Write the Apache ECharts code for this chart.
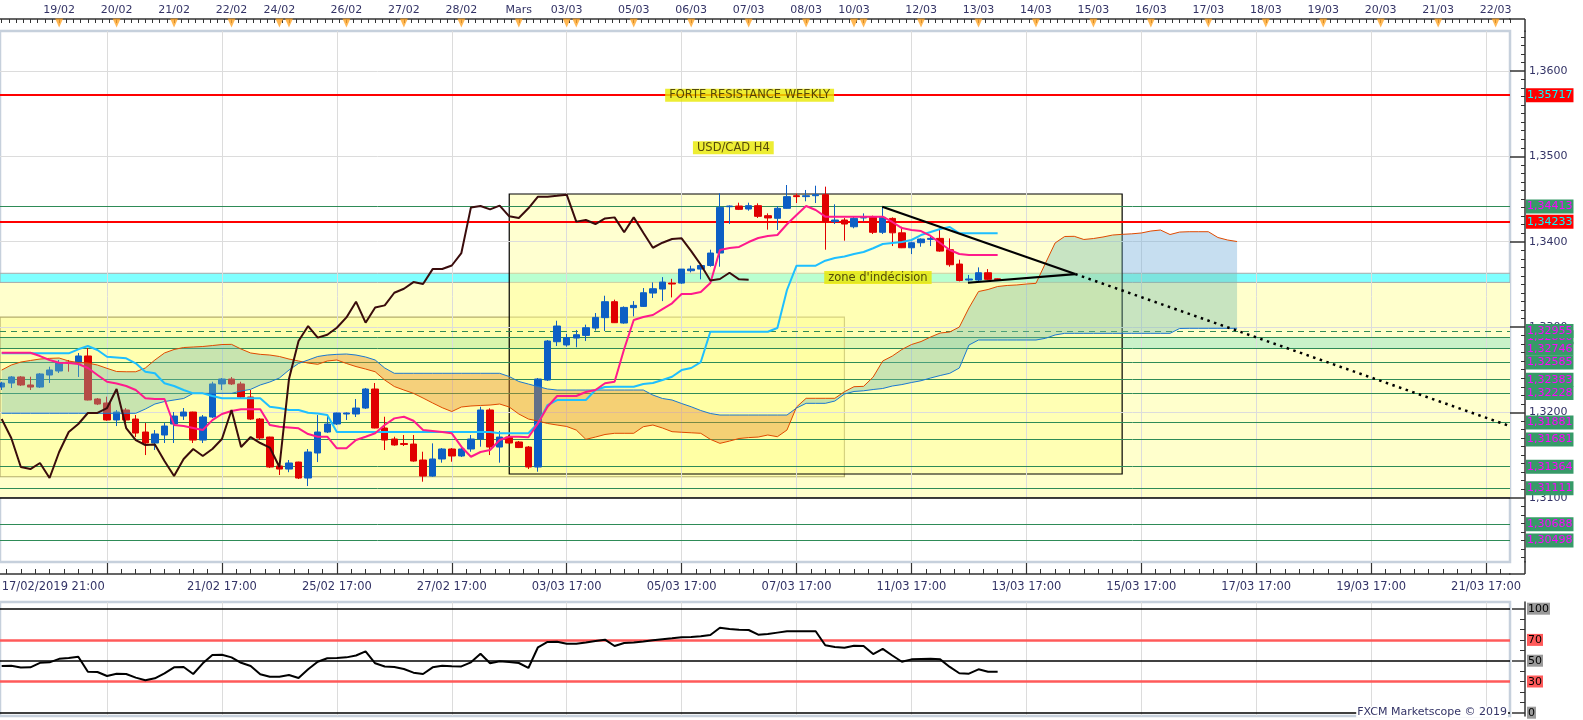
<!DOCTYPE html>
<html>
<head>
<meta charset="utf-8">
<title>USD/CAD H4</title>
<script src="https://cdn.jsdelivr.net/npm/echarts@6/dist/echarts.min.js"></script>
<style>
html, body { margin: 0; padding: 0; background: #ffffff; }
#chart { width: 1583px; height: 720px; }
</style>
</head>
<body>
<div id="chart"></div>
<script>
// ================= DATA =================
// H4 candles, index 0 = 17/02/2019 21:00 : [open, close, low, high]
const ohlc = [
[1.32297,1.32344,1.32262,1.32359],[1.32344,1.32415,1.32286,1.32426],[1.32415,1.32321,1.32309,1.32426],[1.32321,1.32297,1.32262,1.32418],
[1.32297,1.32450,1.32286,1.32461],[1.32438,1.32497,1.32344,1.32535],[1.32485,1.32579,1.32461,1.32614],[1.32590,1.32580,1.32477,1.32614],
[1.32579,1.32661,1.32415,1.32696],[1.32661,1.32145,1.32140,1.32754],[1.32157,1.32098,1.32086,1.32168],[1.32110,1.31911,1.31902,1.32184],
[1.31911,1.32004,1.31840,1.32028],[1.32028,1.31911,1.31875,1.32051],[1.31922,1.31758,1.31711,1.31969],[1.31770,1.31641,1.31500,1.31875],
[1.31641,1.31747,1.31559,1.31793],[1.31735,1.31840,1.31641,1.31875],[1.31864,1.31957,1.31641,1.32004],[1.31957,1.32004,1.31911,1.32051],
[1.32004,1.31676,1.31641,1.32008],[1.31676,1.31946,1.31641,1.31969],[1.31946,1.32333,1.31934,1.32359],[1.32333,1.32391,1.32262,1.32403],
[1.32391,1.32333,1.32321,1.32415],[1.32333,1.32180,1.32165,1.32359],[1.32180,1.31922,1.31911,1.32262],[1.31922,1.31700,1.31676,1.31934],
[1.31711,1.31360,1.31348,1.31715],[1.31372,1.31336,1.31266,1.31422],[1.31336,1.31407,1.31299,1.31442],[1.31418,1.31231,1.31219,1.31422],
[1.31231,1.31536,1.31137,1.31571],[1.31524,1.31770,1.31418,1.31969],[1.31770,1.31864,1.31758,1.31969],[1.31864,1.31993,1.31852,1.31997],
[1.31981,1.31993,1.31911,1.32001],[1.31981,1.32051,1.31946,1.32157],[1.32051,1.32274,1.32040,1.32286],[1.32274,1.31817,1.31813,1.32344],
[1.31817,1.31676,1.31559,1.31949],[1.31688,1.31618,1.31610,1.31715],[1.31635,1.31624,1.31606,1.31735],[1.31629,1.31430,1.31422,1.31735],
[1.31442,1.31254,1.31188,1.31539],[1.31254,1.31454,1.31246,1.31637],[1.31454,1.31571,1.31411,1.31582],[1.31571,1.31489,1.31422,1.31582],
[1.31489,1.31571,1.31477,1.31582],[1.31571,1.31688,1.31539,1.31735],[1.31688,1.32028,1.31598,1.32066],[1.32028,1.31594,1.31500,1.32048],
[1.31594,1.31711,1.31411,1.31782],[1.31711,1.31641,1.31637,1.31735],[1.31653,1.31588,1.31582,1.31665],[1.31594,1.31360,1.31336,1.31606],
[1.31360,1.32391,1.31305,1.32403],[1.32379,1.32836,1.32368,1.32848],[1.32828,1.33012,1.32778,1.33074],[1.32790,1.32876,1.32770,1.32919],
[1.32871,1.32910,1.32763,1.32966],[1.32902,1.32992,1.32836,1.33028],[1.32988,1.33113,1.32958,1.33164],[1.33110,1.33297,1.32953,1.33367],
[1.33297,1.33051,1.33047,1.33321],[1.33047,1.33230,1.33039,1.33242],[1.33227,1.33254,1.33125,1.33304],[1.33242,1.33402,1.33235,1.33457],
[1.33398,1.33449,1.33340,1.33523],[1.33445,1.33527,1.33304,1.33585],[1.33515,1.33504,1.33347,1.33565],[1.33515,1.33679,1.33506,1.33679],
[1.33660,1.33680,1.33640,1.33719],[1.33679,1.33721,1.33559,1.33747],[1.33721,1.33867,1.33707,1.33906],[1.33867,1.34402,1.33707,1.34567],
[1.34410,1.34418,1.34207,1.34424],[1.34418,1.34379,1.34371,1.34457],[1.34383,1.34422,1.34363,1.34457],[1.34422,1.34297,1.34278,1.34449],
[1.34305,1.34278,1.34141,1.34332],[1.34274,1.34391,1.34137,1.34418],[1.34391,1.34528,1.34387,1.34664],[1.34539,1.34528,1.34453,1.34567],
[1.34528,1.34539,1.34473,1.34606],[1.34539,1.34551,1.34453,1.34656],[1.34551,1.34235,1.33906,1.34645],[1.34235,1.34254,1.34207,1.34438],
[1.34254,1.34207,1.34012,1.34277],[1.34175,1.34273,1.34157,1.34301],[1.34278,1.34285,1.34239,1.34332],[1.34285,1.34110,1.34090,1.34305],
[1.34110,1.34285,1.34090,1.34410],[1.34273,1.34104,1.33949,1.34285],[1.34104,1.33929,1.33925,1.34175],[1.33929,1.33988,1.33855,1.34000],
[1.33988,1.34031,1.33941,1.34039],[1.34027,1.34039,1.33949,1.34058],[1.34039,1.33890,1.33882,1.34157],[1.33906,1.33730,1.33707,1.34039],
[1.33738,1.33546,1.33535,1.33789],[1.33551,1.33563,1.33535,1.33610],[1.33551,1.33636,1.33535,1.33699],[1.33636,1.33559,1.33551,1.33679],
[1.33565,1.33555,1.33551,1.33570]
];

const tenkan = [
1.32699,1.32699,1.32699,1.32699,1.32660,1.32614,1.32582,1.32578,1.32567,1.32520,
1.32438,1.32359,1.32338,1.32309,1.32262,1.32165,1.32157,1.32157,1.31852,1.31840,
1.31817,1.31793,1.31910,1.31981,1.32016,1.32036,1.32036,1.32036,1.31852,1.31832,
1.31823,1.31813,1.31746,1.31715,1.31715,1.31579,1.31579,1.31676,1.31715,1.31755,
1.31852,1.31930,1.31949,1.31902,1.31793,1.31782,1.31770,1.31755,1.31598,1.31480,
1.31536,1.31559,1.31676,1.31715,1.31715,1.31708,1.31872,1.32066,1.32192,1.32192,
1.32192,1.32239,1.32262,1.32341,1.32359,1.32742,1.33082,1.33117,1.33141,1.33211,
1.33278,1.33387,1.33387,1.33410,1.33516,1.33903,1.33926,1.33938,1.33996,1.34043,
1.34067,1.34078,1.34204,1.34313,1.34418,1.34371,1.34293,1.34293,1.34293,1.34293,
1.34293,1.34293,1.34293,1.34231,1.34160,1.34137,1.34125,1.34067,1.33985,1.33903,
1.33856,1.33844,1.33844,1.33844,1.33844
];

const kijun = [
1.32692,1.32692,1.32692,1.32692,1.32692,1.32692,1.32692,1.32692,1.32739,1.32778,
1.32731,1.32652,1.32643,1.32633,1.32575,1.32476,1.32458,1.32341,1.32309,1.32262,
1.32223,1.32223,1.32192,1.32165,1.32165,1.32165,1.32165,1.32165,1.32066,1.32051,
1.32028,1.32028,1.31996,1.31987,1.31969,1.31770,1.31770,1.31770,1.31770,1.31770,
1.31770,1.31770,1.31770,1.31770,1.31770,1.31770,1.31770,1.31770,1.31770,1.31770,
1.31770,1.31770,1.31755,1.31755,1.31755,1.31755,1.31872,1.32086,1.32145,1.32145,
1.32145,1.32145,1.32262,1.32297,1.32301,1.32301,1.32301,1.32332,1.32344,1.32379,
1.32418,1.32496,1.32520,1.32590,1.32945,1.32945,1.32945,1.32945,1.32945,1.32945,
1.32945,1.32989,1.33434,1.33719,1.33719,1.33719,1.33777,1.33809,1.33826,1.33856,
1.33879,1.33923,1.33973,1.33985,1.33996,1.34020,1.34078,1.34113,1.34149,1.34172,
1.34098,1.34098,1.34098,1.34098,1.34098
];

const senkouA = [
1.32496,1.32555,1.32590,1.32608,1.32625,1.32633,1.32637,1.32602,1.32584,1.32578,
1.32555,1.32516,1.32479,1.32476,1.32476,1.32520,1.32614,1.32696,1.32737,1.32760,
1.32766,1.32772,1.32783,1.32795,1.32797,1.32742,1.32696,1.32680,1.32672,1.32655,
1.32625,1.32602,1.32578,1.32563,1.32602,1.32614,1.32573,1.32537,1.32508,1.32476,
1.32379,1.32303,1.32262,1.32223,1.32168,1.32110,1.32055,1.32010,1.32063,1.32075,
1.32081,1.32086,1.32098,1.32063,1.31981,1.31922,1.31899,1.31870,1.31852,1.31835,
1.31793,1.31684,1.31711,1.31741,1.31755,1.31755,1.31755,1.31832,1.31852,1.31817,
1.31774,1.31767,1.31761,1.31755,1.31684,1.31637,1.31664,1.31694,1.31705,1.31711,
1.31735,1.31715,1.31793,1.32063,1.32165,1.32165,1.32165,1.32165,1.32242,1.32301,
1.32305,1.32414,1.32602,1.32660,1.32737,1.32795,1.32830,1.32883,1.32930,1.32942,
1.33000,1.33223,1.33416,1.33440,1.33475,1.33487,1.33493,1.33504,1.33512,1.33750,
1.33985,1.34061,1.34063,1.34026,1.34037,1.34055,1.34078,1.34086,1.34092,1.34102,
1.34125,1.34137,1.34084,1.34113,1.34117,1.34117,1.34117,1.34049,1.34020,1.34002
];

const senkouB = [
1.31989,1.31989,1.31989,1.31989,1.31989,1.31989,1.31989,1.31989,1.31989,1.31989,
1.31989,1.31989,1.31989,1.31989,1.31989,1.32039,1.32098,1.32127,1.32145,1.32163,
1.32223,1.32223,1.32223,1.32223,1.32223,1.32250,1.32270,1.32321,1.32356,1.32403,
1.32496,1.32573,1.32614,1.32655,1.32672,1.32680,1.32684,1.32672,1.32649,1.32614,
1.32520,1.32458,1.32458,1.32458,1.32458,1.32458,1.32458,1.32458,1.32458,1.32458,
1.32458,1.32458,1.32458,1.32420,1.32362,1.32332,1.32303,1.32274,1.32262,1.32262,
1.32262,1.32262,1.32262,1.32262,1.32262,1.32262,1.32262,1.32262,1.32203,1.32163,
1.32145,1.32104,1.32066,1.32022,1.31987,1.31969,1.31969,1.31969,1.31969,1.31969,
1.31969,1.31969,1.31969,1.32051,1.32106,1.32106,1.32106,1.32133,1.32215,1.32245,
1.32253,1.32268,1.32280,1.32309,1.32326,1.32350,1.32371,1.32403,1.32432,1.32458,
1.32520,1.32789,1.32848,1.32848,1.32848,1.32848,1.32848,1.32848,1.32848,1.32868,
1.32907,1.32926,1.32926,1.32926,1.32926,1.32926,1.32926,1.32926,1.32926,1.32926,
1.32926,1.32926,1.32926,1.32983,1.32985,1.32985,1.32985,1.32985,1.32985,1.32985
];

const rsi = [
44.9,45.1,43.4,43.6,48.0,48.4,51.8,52.5,53.8,39.4,
39.1,35.3,37.5,37.2,33.7,31.2,33.1,37.9,43.6,43.9,
37.2,47.5,55.5,55.8,53.2,48.0,44.9,37.0,34.6,34.6,
36.3,33.4,41.7,49.0,52.3,52.7,53.2,55.0,59.0,47.5,
44.4,44.0,42.0,38.5,37.2,43.6,45.2,44.6,44.5,48.4,
56.7,47.5,49.5,48.8,47.8,43.0,62.9,68.0,68.3,66.3,
66.3,67.5,68.9,70.2,64.1,67.0,67.5,68.5,69.7,70.6,
71.5,72.5,72.7,73.5,74.7,81.7,80.5,79.7,79.5,75.0,
75.7,77.0,78.3,78.3,78.3,78.3,64.8,63.2,62.5,64.4,
64.1,56.4,61.3,55.0,49.0,51.3,51.6,51.9,51.3,44.0,
37.9,37.5,41.7,39.4,39.4
];
const CHIKOU_SHIFT = 26;

// axis labels
const topDateIdx  = [6,12,18,24,29,36,42,48,54,59,66,72,78,84,89,96,102,108,114,120,126,132,138,144,150,156];
const topDateText = ['19/02','20/02','21/02','22/02','24/02','26/02','27/02','28/02','Mars','03/03','05/03','06/03','07/03','08/03','10/03','12/03','13/03','14/03','15/03','16/03','17/03','18/03','19/03','20/03','21/03','22/03'];
const dayMarkIdx  = [6,12,18,24,29,30,36,42,48,54,59,60,66,72,78,84,89,90,96,102,108,114,120,126,132,138,144,150,156];
const bottomTickIdx  = [23,35,47,59,71,83,95,107,119,131,143,155];
const bottomTickText = ['21/02 17:00','25/02 17:00','27/02 17:00','03/03 17:00','05/03 17:00','07/03 17:00','11/03 17:00','13/03 17:00','15/03 17:00','17/03 17:00','19/03 17:00','21/03 17:00'];
const firstBarLabel = '17/02/2019 21:00';
const gridLineIdx = [11].concat(bottomTickIdx);
const priceTicks = [1.31, 1.32, 1.33, 1.34, 1.35, 1.36];
const rsiLabelVals = [0, 30, 50, 70, 100];

// drawn levels / zones
const redLevels = [1.35717, 1.34233];
const greenLevels = [1.32880, 1.34413, 1.32746, 1.32585, 1.32383, 1.32228, 1.31881, 1.31681, 1.31364, 1.31111, 1.30688, 1.30498];
const dashedLevel = 1.32955;
const hiddenLevel = 1.33648;
const cyanLevel = 1.33564;
const baseLevel = 1.31;
const yellowZone = [1.31, 1.33523];
const cyanBand = [1.33523, 1.33630];
const greenBand = [1.32746, 1.32880];
const rangeBox = [53, 117, 1.31278, 1.34559];
const khakiBox = [88, 1.31246, 1.33117];
const trendDown = [[91.95, 1.34410], [112.1, 1.33621]];
const trendDownExt = [[112.1, 1.33621], [157.3, 1.31847]];
const trendUp = [[100.9, 1.33519], [112.1, 1.33621]];
const notes = [
  {text: 'FORTE RESISTANCE WEEKLY', at: [78.1, 1.35717]},
  {text: 'USD/CAD H4', at: [76.4, 1.35100]},
  {text: "zone d'indécision", at: [91.5, 1.33580]}
];
const rsiRedLevels = [70, 30];
const rsiBlackLevels = [100, 50, 0];

// ================= LAYOUT / STYLE =================
const FONT = 'DejaVu Sans';
const XMIN = -0.175, XMAX = 157.5;
const YMIN = 1.30247, YMAX = 1.364687;
const RMIN = -3.17, RMAX = 106.44;
const TRI_Y = YMAX + 8 / 8534;
const UP = '#0d5fc4', DN = '#e00000';
// cloud tints: over pale-yellow background / over white background
const CLOUD_UP_Y = 'rgba(118,188,174,0.40)', CLOUD_UP_W = 'rgba(112,172,218,0.40)', CLOUD_DN = 'rgba(230,138,44,0.40)';
const AXIS_C = '#333333', TXT_C = '#333366';

const fmt4 = v => v.toFixed(4).replace('.', ',');
const fmt5 = v => Number(v).toFixed(5).replace('.', ',');

const bottomMinorTicks = [];
for (let k = -7; 11 + 1.5 * k <= XMAX; k++) if ((((k % 8) + 8) % 8) !== 0) bottomMinorTicks.push(11 + 1.5 * k);
const topMinorTicks = [];
for (let k = 0; k * 0.75 <= XMAX; k++) topMinorTicks.push(k * 0.75);
const minorPriceTicks = [];
for (let k = 1303; k <= 1364; k++) if (k % 10 !== 0) minorPriceTicks.push(k / 1000);

const bottomMap = {}; bottomTickIdx.forEach((v, i) => bottomMap[v] = bottomTickText[i]);
const topMap = {}; topDateIdx.forEach((v, i) => topMap[v] = topDateText[i]);

function rectSeries(name, range, style, z) {
  return {
    name, type: 'custom', xAxisIndex: 0, yAxisIndex: 0, z, silent: true, clip: true,
    data: [range], encode: {x: [0, 1], y: [2, 3]},
    renderItem: (params, api) => {
      const p0 = api.coord([api.value(0), api.value(2)]);
      const p1 = api.coord([api.value(1), api.value(3)]);
      return {type: 'rect', shape: {x: p0[0], y: p1[1], width: p1[0] - p0[0], height: p0[1] - p1[1]}, style};
    }
  };
}

// Sutherland-Hodgman clip of a polygon (data coords) against an axis-aligned rectangle
function clipPoly(pts, x0, x1, y0, y1) {
  const planes = [
    [p => p[0] >= x0, (a, b) => { const t = (x0 - a[0]) / (b[0] - a[0]); return [x0, a[1] + t * (b[1] - a[1])]; }],
    [p => p[0] <= x1, (a, b) => { const t = (x1 - a[0]) / (b[0] - a[0]); return [x1, a[1] + t * (b[1] - a[1])]; }],
    [p => p[1] >= y0, (a, b) => { const t = (y0 - a[1]) / (b[1] - a[1]); return [a[0] + t * (b[0] - a[0]), y0]; }],
    [p => p[1] <= y1, (a, b) => { const t = (y1 - a[1]) / (b[1] - a[1]); return [a[0] + t * (b[0] - a[0]), y1]; }]
  ];
  let out = pts;
  for (const [inside, cut] of planes) {
    const inp = out; out = [];
    for (let i = 0; i < inp.length; i++) {
      const cur = inp[i], prev = inp[(i + inp.length - 1) % inp.length];
      if (inside(cur)) { if (!inside(prev)) out.push(cut(prev, cur)); out.push(cur); }
      else if (inside(prev)) out.push(cut(prev, cur));
    }
    if (!out.length) break;
  }
  return out;
}

function cloudRender(params, api) {
  const regions = []; let cur = null;
  const start = s => { cur = {sign: s, a: [], b: []}; regions.push(cur); };
  for (let i = 0; i < senkouA.length; i++) {
    const d = senkouA[i] - senkouB[i];
    const s = d >= 0 ? 1 : -1;
    if (!cur) start(s);
    else if (s !== cur.sign) {
      const dp = senkouA[i - 1] - senkouB[i - 1];
      const t = dp / (dp - d);
      const pc = [i - 1 + t, senkouA[i - 1] + (senkouA[i] - senkouA[i - 1]) * t];
      cur.a.push(pc); cur.b.push(pc);
      start(s);
      cur.a.push(pc); cur.b.push(pc);
    }
    cur.a.push([i, senkouA[i]]); cur.b.push([i, senkouB[i]]);
  }
  const bx = rangeBox[1], by = cyanBand[1];
  // background areas: white (right of the box, above the cyan band) vs pale yellow (everything else)
  const areas = [
    {r: [XMIN, bx, YMIN, YMAX], white: false},
    {r: [bx, XMAX, YMIN, by], white: false},
    {r: [bx, XMAX, by, YMAX], white: true}
  ];
  const children = [];
  regions.forEach(rg => {
    const poly = rg.a.concat(rg.b.slice().reverse());
    areas.forEach(ar => {
      const c = clipPoly(poly, ar.r[0], ar.r[1], ar.r[2], ar.r[3]);
      if (c.length < 3) return;
      const fill = rg.sign < 0 ? CLOUD_DN : (ar.white ? CLOUD_UP_W : CLOUD_UP_Y);
      children.push({type: 'polygon', shape: {points: c.map(p => api.coord(p))}, style: {fill}});
    });
  });
  return {type: 'group', children};
}

const lvlLabel = (bg, fg) => ({
  show: true, position: 'end', distance: 16, formatter: p => fmt5(p.value),
  backgroundColor: bg, color: fg, fontSize: 11, fontFamily: FONT, padding: [2, 1, 1, 1], lineHeight: 11
});
const GREEN_LINE = '#2e8b57';
const greenLbl = lvlLabel('#379a68', '#ff00ff');

const levelItems = [];
levelItems.push({yAxis: hiddenLevel, lineStyle: {opacity: 0}, label: greenLbl});
greenLevels.forEach(v => levelItems.push({yAxis: v, lineStyle: {color: GREEN_LINE, width: 1, type: 'solid'}, label: greenLbl}));
levelItems.push({yAxis: dashedLevel, lineStyle: {color: GREEN_LINE, width: 1, type: [6, 5]}, label: greenLbl});
redLevels.forEach(v => levelItems.push({yAxis: v, lineStyle: {color: '#ff0000', width: 2.2, type: 'solid'}, label: lvlLabel('#ff0000', '#00ffff')}));
levelItems.push({yAxis: cyanLevel, lineStyle: {opacity: 0}, label: lvlLabel('#66ccff', '#000022')});
levelItems.push({yAxis: baseLevel, lineStyle: {color: '#000000', width: 1.5, type: 'solid'}, label: {show: false}});

const gridItems = gridLineIdx.map(i => ({xAxis: i})).concat(priceTicks.map(v => ({yAxis: v})));

const rsiItems = gridLineIdx.map(i => ({xAxis: i, lineStyle: {color: '#dcdcdc', width: 1, type: 'solid'}}))
  .concat(rsiBlackLevels.map(v => ({yAxis: v, lineStyle: {color: '#000', width: 1.5, type: 'solid'}})))
  .concat(rsiRedLevels.map(v => ({yAxis: v, lineStyle: {color: '#ff5a5a', width: 2.5, type: 'solid'}})));

const xBase = {type: 'value', min: XMIN, max: XMAX, gridIndex: 0, splitLine: {show: false}};

const option = {
  animation: false,
  backgroundColor: '#ffffff',
  grid: [
    {left: 0, right: 73, top: 31, bottom: 158, outerBoundsMode: 'none', containLabel: false, show: true, backgroundColor: '#ffffff', borderColor: '#c6d0dc', borderWidth: 2.5},
    {left: 0, right: 73, top: 602, bottom: 4, outerBoundsMode: 'none', containLabel: false, show: true, backgroundColor: '#ffffff', borderColor: '#c6d0dc', borderWidth: 2.5}
  ],
  xAxis: [
    Object.assign({}, xBase, {position: 'bottom', offset: 12,
      axisLine: {show: true, onZero: false, lineStyle: {color: AXIS_C, width: 1.5}},
      axisTick: {show: true, inside: true, length: 11, customValues: gridLineIdx, lineStyle: {color: AXIS_C, width: 1.2}},
      axisLabel: {show: true, customValues: bottomTickIdx, formatter: v => bottomMap[v] || '', color: TXT_C, fontSize: 11.5, fontFamily: FONT, margin: 7}}),
    Object.assign({}, xBase, {position: 'bottom', offset: 12,
      axisLine: {show: false, onZero: false},
      axisTick: {show: true, inside: true, length: 5, customValues: bottomMinorTicks, lineStyle: {color: AXIS_C}},
      axisLabel: {show: false}}),
    Object.assign({}, xBase, {position: 'bottom', offset: 12,
      axisLine: {show: false, onZero: false}, axisTick: {show: false},
      axisLabel: {show: true, customValues: [0], formatter: () => firstBarLabel, align: 'left', color: TXT_C, fontSize: 11.5, fontFamily: FONT, margin: 7}}),
    Object.assign({}, xBase, {position: 'top', offset: 12,
      axisLine: {show: true, onZero: false, lineStyle: {color: AXIS_C, width: 1.5}},
      axisTick: {show: true, inside: true, length: 4, customValues: topMinorTicks, lineStyle: {color: AXIS_C}},
      axisLabel: {show: true, customValues: topDateIdx, formatter: v => topMap[v] || '', color: TXT_C, fontSize: 11, fontFamily: FONT, margin: 3}}),
    {type: 'value', gridIndex: 1, min: XMIN, max: XMAX, show: false, axisLine: {onZero: false}, splitLine: {show: false}}
  ],
  yAxis: [
    {type: 'value', gridIndex: 0, position: 'right', offset: 15, min: YMIN, max: YMAX,
      axisLine: {show: true, onZero: false, lineStyle: {color: AXIS_C, width: 1.5}},
      axisTick: {show: true, inside: true, length: 15, customValues: priceTicks, lineStyle: {color: AXIS_C, width: 1.5}},
      axisLabel: {show: true, customValues: priceTicks, formatter: fmt4, color: TXT_C, fontSize: 11, fontFamily: FONT, margin: 4},
      splitLine: {show: false}},
    {type: 'value', gridIndex: 0, position: 'right', offset: 15, min: YMIN, max: YMAX,
      axisLine: {show: false, onZero: false},
      axisTick: {show: true, inside: true, length: 4, customValues: minorPriceTicks, lineStyle: {color: AXIS_C}},
      axisLabel: {show: false}, splitLine: {show: false}},
    {type: 'value', gridIndex: 1, position: 'right', offset: 15, min: RMIN, max: RMAX,
      axisLine: {show: true, onZero: false, lineStyle: {color: AXIS_C, width: 1.5}},
      axisTick: {show: true, inside: true, length: 13, customValues: [0, 50, 100], lineStyle: {color: AXIS_C, width: 1.5}},
      axisLabel: {show: true, customValues: rsiLabelVals, margin: 2,
        formatter: v => (v === 30 || v === 70) ? '{r|' + v + '}' : '{g|' + v + '}',
        rich: {
          g: {backgroundColor: '#9a9a9a', color: '#000', fontSize: 11, fontFamily: FONT, padding: [1, 1, 0, 1]},
          r: {backgroundColor: '#ff5a5a', color: '#000', fontSize: 11, fontFamily: FONT, padding: [1, 1, 0, 1]}
        }},
      splitLine: {show: false}},
    {type: 'value', gridIndex: 1, position: 'right', offset: 15, min: RMIN, max: RMAX,
      axisLine: {show: false, onZero: false},
      axisTick: {show: true, inside: true, length: 5, customValues: [10, 20, 30, 40, 60, 70, 80, 90], lineStyle: {color: AXIS_C}},
      axisLabel: {show: false}, splitLine: {show: false}}
  ],
  graphic: [
    {type: 'line', shape: {x1: 1509, y1: 19, x2: 1525, y2: 19}, style: {stroke: AXIS_C, lineWidth: 1.5}, z: 10},
    {type: 'line', shape: {x1: 1525, y1: 19, x2: 1525, y2: 32}, style: {stroke: AXIS_C, lineWidth: 1.5}, z: 10},
    {type: 'line', shape: {x1: 1509, y1: 574, x2: 1525, y2: 574}, style: {stroke: AXIS_C, lineWidth: 1.5}, z: 10},
    {type: 'line', shape: {x1: 1525, y1: 561, x2: 1525, y2: 574}, style: {stroke: AXIS_C, lineWidth: 1.5}, z: 10},
    {type: 'text', x: 1508, y: 712, z: 20,
      style: {text: 'FXCM Marketscope © 2019', fill: TXT_C, font: '11px "DejaVu Sans"', align: 'right', verticalAlign: 'middle', backgroundColor: '#ffffff', padding: [0, 1]}}
  ],
  series: [
    rectSeries('yellowZone', [XMIN, XMAX, yellowZone[0], yellowZone[1]], {fill: '#ffffcc'}, 1),
    rectSeries('cyanBand', [XMIN, XMAX, cyanBand[0], cyanBand[1]], {fill: '#80ffff', stroke: '#a8a8a8', lineWidth: 1}, 1),
    rectSeries('greenBand', [XMIN, XMAX, greenBand[0], greenBand[1]], {fill: '#c9f2c9'}, 1),
    rectSeries('khakiBox', [XMIN, khakiBox[0], khakiBox[1], khakiBox[2]], {fill: 'rgba(255,255,110,0.30)', stroke: '#b5ae6e', lineWidth: 1.2}, 2),
    rectSeries('rangeBox', rangeBox, {fill: 'rgba(255,255,150,0.45)', stroke: '#000000', lineWidth: 1.2}, 2),
    {name: 'grid', type: 'line', xAxisIndex: 0, yAxisIndex: 0, data: [], silent: true,
      markLine: {silent: true, symbol: ['none', 'none'], z: 3, precision: 5, animation: false, label: {show: false},
        lineStyle: {color: '#dcdcdc', width: 1, type: 'solid'}, data: gridItems}},
    {name: 'levels', type: 'line', xAxisIndex: 0, yAxisIndex: 0, data: [], silent: true,
      markLine: {silent: true, symbol: ['none', 'none'], z: 3, precision: 5, animation: false, data: levelItems}},
    {name: 'USD/CAD', type: 'candlestick', xAxisIndex: 0, yAxisIndex: 0, z: 4, barWidth: 7,
      encode: {x: 0, y: [1, 2, 3, 4]},
      data: ohlc.map((c, i) => [i, c[0], c[1], c[2], c[3]]),
      itemStyle: {color: UP, color0: DN, borderColor: UP, borderColor0: DN, borderWidth: 1}},
    {name: 'cloud', type: 'custom', xAxisIndex: 0, yAxisIndex: 0, z: 5, silent: true, clip: true,
      data: [[0, senkouA[0]]], renderItem: cloudRender},
    {name: 'Senkou A', type: 'line', xAxisIndex: 0, yAxisIndex: 0, z: 6, showSymbol: false, silent: true,
      data: senkouA.map((v, i) => [i, v]), lineStyle: {color: '#e04a00', width: 1}},
    {name: 'Senkou B', type: 'line', xAxisIndex: 0, yAxisIndex: 0, z: 6, showSymbol: false, silent: true,
      data: senkouB.map((v, i) => [i, v]), lineStyle: {color: '#1a78d0', width: 1}},
    {name: 'Kijun', type: 'line', xAxisIndex: 0, yAxisIndex: 0, z: 6, showSymbol: false, silent: true,
      data: kijun.map((v, i) => [i, v]), lineStyle: {color: '#1ebfff', width: 2}},
    {name: 'Tenkan', type: 'line', xAxisIndex: 0, yAxisIndex: 0, z: 6, showSymbol: false, silent: true,
      data: tenkan.map((v, i) => [i, v]), lineStyle: {color: '#ff1a8c', width: 2}},
    {name: 'Chikou', type: 'line', xAxisIndex: 0, yAxisIndex: 0, z: 6, showSymbol: false, silent: true,
      data: ohlc.slice(CHIKOU_SHIFT).map((c, k) => [k, c[1]]), lineStyle: {color: '#3a0c0c', width: 2}},
    {name: 'trendDown', type: 'line', xAxisIndex: 0, yAxisIndex: 0, z: 7, showSymbol: false, silent: true,
      data: trendDown, lineStyle: {color: '#000', width: 2.2}},
    {name: 'trendUp', type: 'line', xAxisIndex: 0, yAxisIndex: 0, z: 7, showSymbol: false, silent: true,
      data: trendUp, lineStyle: {color: '#000', width: 2.2}},
    {name: 'trendExt', type: 'line', xAxisIndex: 0, yAxisIndex: 0, z: 7, showSymbol: false, silent: true,
      data: trendDownExt, lineStyle: {color: '#000', width: 2.5, type: [2.5, 4.5]}},
    {name: 'notes', type: 'scatter', xAxisIndex: 0, yAxisIndex: 0, z: 8, silent: true,
      symbol: 'rect', symbolSize: 1, itemStyle: {color: 'rgba(0,0,0,0)'},
      data: notes.map(n => ({value: n.at, name: n.text})),
      label: {show: true, position: 'inside', formatter: p => p.name, color: '#302000', backgroundColor: '#e8e800',
        fontSize: 11.5, fontFamily: FONT, padding: [1, 4, 0, 4], lineHeight: 12}},
    {name: 'dayMarks', type: 'scatter', xAxisIndex: 0, yAxisIndex: 0, z: 8, silent: true, clip: false,
      symbol: 'triangle', symbolRotate: 180, symbolSize: [8, 9], itemStyle: {color: '#ffa528'},
      data: dayMarkIdx.map(i => [i, TRI_Y])},
    {name: 'rsiLevels', type: 'line', xAxisIndex: 4, yAxisIndex: 2, data: [], silent: true,
      markLine: {silent: true, symbol: ['none', 'none'], z: 3, precision: 2, animation: false, label: {show: false}, data: rsiItems}},
    {name: 'RSI', type: 'line', xAxisIndex: 4, yAxisIndex: 2, z: 5, showSymbol: false, silent: true,
      data: rsi.map((v, i) => [i, v]), lineStyle: {color: '#000', width: 2}}
  ]
};

const chart = echarts.init(document.getElementById('chart'));
chart.setOption(option);
</script>
</body>
</html>
